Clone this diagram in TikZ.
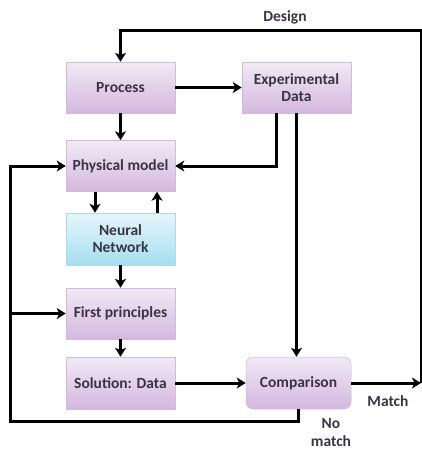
\documentclass[tikz,border=0pt]{standalone}
\usepackage{fontspec}
\setmainfont{Carlito}
\usetikzlibrary{arrows.meta,calc}
\definecolor{txt}{HTML}{3A3344}
\definecolor{lavtop}{HTML}{F2E9F5}
\definecolor{lavbot}{HTML}{D3B8DF}
\definecolor{cyantop}{HTML}{E6F6FB}
\definecolor{cyanbot}{HTML}{A6DDF0}
\tikzset{
  box/.style={rectangle, minimum width=109pt, minimum height=51pt, inner sep=1pt,
    top color=lavtop, bottom color=lavbot, draw=lavbot, line width=0.5pt,
    font=\bfseries\fontsize{15.5}{17}\selectfont, text=txt, align=center},
  nnbox/.style={box, top color=cyantop, bottom color=cyanbot, draw=cyanbot},
  arr/.style={line width=3pt, -{Stealth[length=9pt,width=11pt,inset=2.5pt]}},
  lbl/.style={font=\bfseries\fontsize{15.5}{18}\selectfont, text=txt, align=center}
}
\begin{document}
\begin{tikzpicture}[x=1pt,y=1pt]
\useasboundingbox (0,0) rectangle (422,-453);

% blocks
\node[box] (process) at (120.5,-87.5) {Process};
\node[box] (expdata) at (296.5,-87.5) {Experimental\\Data};
\node[box] (phys) at (120.5,-166) {Physical model};
\node[nnbox, minimum height=52pt] (nn) at (120.5,-239) {Neural\\Network};
\node[box] (fp) at (120.5,-313.5) {First principles};
\node[box, minimum height=52pt] (sol) at (120.5,-383) {Solution: Data};
\node[box, minimum width=105pt, minimum height=52pt, rounded corners=7pt] (cmp) at (298.5,-383) {Comparison};

% helper points for the outer loops
\coordinate (mend) at (421,-383);
\coordinate (dtop) at (421,-30);
\coordinate (fbl) at (10,-421);

% labels
\node[lbl] (design) at (285,-17) {Design};
\node[lbl] (match) at (388,-401) {Match};
\node[lbl] (nomatch) at (331,-433) {No\\match};

% main flow
\draw[arr] (process) -- (expdata);
\draw[arr] (process) -- (phys);
\draw[arr] ([xshift=-25.5pt]phys.south) -- ([xshift=-25.5pt]nn.north);
\draw[arr] ([xshift=36.5pt]nn.north) -- ([xshift=36.5pt]phys.south);
\draw[arr] (nn) -- (fp);
\draw[arr] (fp) -- (sol);
\draw[arr] (sol) -- (cmp);

% experimental data paths
\draw[arr] ([xshift=-20.5pt]expdata.south) |- (phys.east);
\draw[arr] (expdata.south) -- (expdata.south |- cmp.north);

% match / design loop
\draw[arr] (cmp.east) -- (mend);
\draw[arr] (mend) -- (dtop) -| (process.north);

% no-match feedback loop
\draw[arr] (cmp.south) |- (fbl) |- (phys.west);
\draw[arr] (fbl |- fp.west) -- (fp.west);
\end{tikzpicture}
\end{document}
